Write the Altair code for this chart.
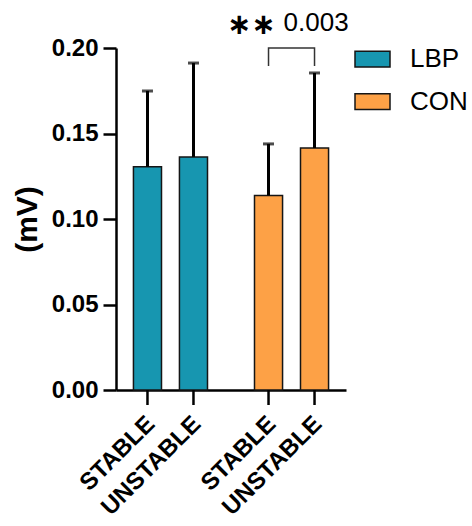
import altair as alt
import pandas as pd

# ---- data ----
groups = ["LBP", "LBP", "CON", "CON"]
conditions = ["STABLE", "UNSTABLE", "STABLE", "UNSTABLE"]
means = [0.1305, 0.1363, 0.1138, 0.1415]
sds = [0.0444, 0.0549, 0.0301, 0.0439]

group_order = ["LBP", "CON"]
cond_order = ["STABLE", "UNSTABLE"]
colors = ["#1796b0", "#fda146"]

# significance bracket (CON: STABLE vs UNSTABLE)
bracket_group = ["CON", "CON", "CON", "CON"]
bracket_cond = ["STABLE", "STABLE", "UNSTABLE", "UNSTABLE"]
bracket_y = [0.1895, 0.2, 0.2, 0.1895]
bracket_idx = [0, 1, 2, 3]
sig_stars = "\u2217\u2217"
p_value = "0.003"

y_ticks = [0, 0.05, 0.10, 0.15, 0.20]

df = pd.DataFrame({"group": groups, "condition": conditions, "mean": means, "sd": sds})
bracket_df = pd.DataFrame({"group": bracket_group, "condition": bracket_cond,
                           "y": bracket_y, "idx": bracket_idx})
sig_df = pd.DataFrame({"group": ["CON"], "stars": [sig_stars], "p": [p_value]})

W, H = 230, 342
BOLD = "Liberation Sans"

x_enc = alt.X("group:N", sort=group_order,
              scale=alt.Scale(domain=group_order, paddingInner=0.24, paddingOuter=0.07),
              axis=alt.Axis(labels=False, ticks=False, title=None, domainWidth=2.5,
                            domainColor="black"))
xo_enc = alt.XOffset("condition:N", sort=cond_order,
                     scale=alt.Scale(domain=cond_order, paddingInner=0.39, paddingOuter=0.195))
y_scale = alt.Scale(domain=[0, 0.2], nice=False)

base = alt.Chart(df).transform_calculate(upper="datum.mean + datum.sd")

bars = base.mark_bar(stroke="#151515", strokeWidth=1.5).encode(
    x=x_enc, xOffset=xo_enc,
    y=alt.Y("mean:Q", scale=y_scale,
            axis=alt.Axis(values=y_ticks, format=".2f", title="(mV)",
                          titleFont=BOLD, titleFontSize=30, titleFontWeight="bold",
                          titlePadding=9,
                          labelFont=BOLD, labelFontWeight="bold", labelFontSize=24,
                          labelPadding=5, tickSize=13, tickWidth=2.5, domainWidth=2.5,
                          domainColor="black", tickColor="black")),
    color=alt.Color("group:N",
                    scale=alt.Scale(domain=group_order, range=colors),
                    legend=alt.Legend(orient="none", legendX=238, legendY=-7.5, title=None,
                                      symbolType="M-1,-0.45L1,-0.45L1,0.45L-1,0.45Z",
                                      symbolSize=1225, symbolStrokeColor="#151515",
                                      symbolStrokeWidth=1.5, symbolOpacity=1,
                                      labelFont="Liberation Sans", labelFontSize=26,
                                      labelColor="black", labelOffset=19,
                                      rowPadding=10.5, padding=0)),
)

err = base.mark_rule(color="black", strokeWidth=3).encode(
    x=x_enc, xOffset=xo_enc, y="mean:Q", y2="upper:Q")
caps = base.mark_tick(color="black", size=11, thickness=3).encode(
    x=x_enc, xOffset=xo_enc, y="upper:Q")

xticks = base.mark_rule(color="black", strokeWidth=2.5).encode(
    x=x_enc, xOffset=xo_enc, y=alt.value(H), y2=alt.value(H + 15))
xlabels = base.mark_text(angle=315, align="right", baseline="top", font=BOLD,
                         fontWeight="bold", fontSize=24, color="black", dx=-7).encode(
    x=x_enc, xOffset=xo_enc, y=alt.value(H + 17), text="condition:N")

bracket = alt.Chart(bracket_df).mark_line(color="#333333", strokeWidth=1.5).encode(
    x=x_enc, xOffset=xo_enc, y=alt.Y("y:Q", scale=y_scale), order="idx:Q")

stars = alt.Chart(sig_df).mark_text(align="right", baseline="alphabetic", font="DejaVu Sans",
                                    fontWeight="bold", fontSize=29, dx=-16, dy=2,
                                    color="black").encode(
    x=x_enc, y=alt.value(-16), text="stars:N")
pval = alt.Chart(sig_df).mark_text(align="left", baseline="alphabetic", font="Liberation Sans",
                                   fontSize=26, dx=-8, color="black").encode(
    x=x_enc, y=alt.value(-17), text="p:N")

chart = alt.layer(bars, err, caps, xticks, xlabels, bracket, stars, pval).properties(
    width=W, height=H,
    autosize=alt.AutoSizeParams(type="none"),
    padding={"left": 116, "top": 48, "right": 126, "bottom": 136},
    background="white",
).configure_view(stroke=None).configure_axis(grid=False, domainColor="black",
                                              tickColor="black", labelColor="black",
                                              titleColor="black")

chart.save("out.html", embed_options={"renderer": "svg", "actions": False})
